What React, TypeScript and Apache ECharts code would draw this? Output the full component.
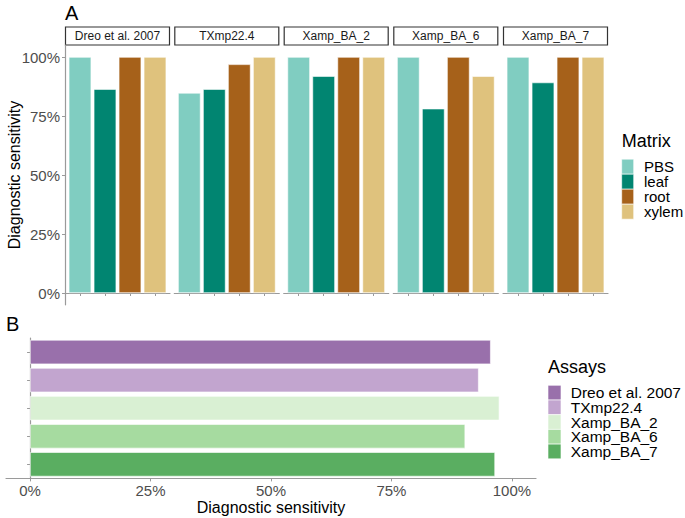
import React, { useEffect, useRef } from "react";
import * as echarts from "echarts";

// ---- data ----
const facets = ["Dreo et al. 2007", "TXmp22.4", "Xamp_BA_2", "Xamp_BA_6", "Xamp_BA_7"];
const matrices = ["PBS", "leaf", "root", "xylem"];
const pbsValues = [100, 84.8, 100, 100, 100];
const leafValues = [86.4, 86.4, 91.9, 78.1, 89.2];
const rootValues = [100, 96.9, 100, 100, 100];
const xylemValues = [100, 100, 100, 91.9, 100];
const matrixColors = ["#80CDC1", "#018571", "#A6611A", "#DFC27D"];

const assays = ["Dreo et al. 2007", "TXmp22.4", "Xamp_BA_2", "Xamp_BA_6", "Xamp_BA_7"];
const assayValues = [95.6, 93.1, 97.4, 90.3, 96.5];
const assayColors = ["#9970AB", "#C2A5CF", "#D9F0D3", "#A6DBA0", "#5AAE61"];

const pctTicks = [0, 25, 50, 75, 100];

const FONT = "Liberation Sans, Arial, Helvetica, sans-serif";
const AXIS_GRAY = "#9a9a9a";
const TEXT_GRAY = "#4D4D4D";

function legendGraphics(
  title: string,
  names: string[],
  colors: string[],
  x: number,
  titleY: number,
  firstKeyTop: number,
  keyW: number,
  keyH: number,
  labelX: number,
  labelSize: number
) {
  const els: any[] = [
    { type: "text", x, y: titleY, style: { text: title, font: `18px ${FONT}`, fill: "#000", verticalAlign: "middle" } },
  ];
  names.forEach((n, i) => {
    els.push({
      type: "rect",
      shape: { x, y: firstKeyTop + i * keyH, width: keyW, height: keyH },
      style: { fill: colors[i], stroke: "#ffffff", lineWidth: 0.6 },
    });
    els.push({
      type: "text",
      x: labelX,
      y: firstKeyTop + i * keyH + keyH / 2,
      style: { text: n, font: `${labelSize}px ${FONT}`, fill: "#000", verticalAlign: "middle" },
    });
  });
  return els;
}

export default function App() {
  const ref = useRef<HTMLDivElement>(null);

  useEffect(() => {
    if (!ref.current) return;
    const chart = echarts.init(ref.current, null, { renderer: "svg" });

    const matrixValues = [pbsValues, leafValues, rootValues, xylemValues];

    // Layout of panel A
    const aLefts = [65, 174.3, 283.7, 393.3, 503];
    const aWidth = 105;
    const aTop = 45.2;
    const aHeight = 259.6;

    const grids: any[] = [];
    const xAxes: any[] = [];
    const yAxes: any[] = [];
    const series: any[] = [];
    const graphics: any[] = [];

    facets.forEach((f, fi) => {
      grids.push({ left: aLefts[fi], top: aTop, width: aWidth, height: aHeight, containLabel: false });
      xAxes.push({
        type: "value",
        gridIndex: fi,
        min: 0.4,
        max: 4.6,
        axisLine: { show: true, lineStyle: { color: AXIS_GRAY, width: 1.2 } },
        axisTick: { show: true, length: 3, customValues: [1, 2, 3, 4], lineStyle: { color: AXIS_GRAY } },
        axisLabel: { show: false },
        splitLine: { show: false },
      });
      yAxes.push({
        type: "value",
        gridIndex: fi,
        min: -5,
        max: 105,
        axisLine: { show: fi === 0, lineStyle: { color: AXIS_GRAY, width: 1.2 } },
        axisTick: { show: fi === 0, length: 3, customValues: pctTicks, lineStyle: { color: AXIS_GRAY } },
        axisLabel: {
          show: fi === 0,
          customValues: pctTicks,
          formatter: "{value}%",
          color: TEXT_GRAY,
          fontSize: 15,
          fontFamily: FONT,
          margin: 5,
        },
        splitLine: { show: false },
      });
      matrices.forEach((m, mi) => {
        series.push({
          type: "bar",
          name: m,
          xAxisIndex: fi,
          yAxisIndex: fi,
          data: [[mi + 1, matrixValues[mi][fi]]],
          barWidth: 22.5,
          barGap: "-100%",
          itemStyle: { color: matrixColors[mi], borderColor: "#ffffff", borderWidth: 0.6 },
        });
      });
      // strip
      graphics.push({
        type: "rect",
        shape: { x: aLefts[fi] + 0.5, y: 27, width: aWidth - 1, height: 18 },
        style: { fill: "#ffffff", stroke: "#333333", lineWidth: 1.2 },
      });
      graphics.push({
        type: "text",
        x: aLefts[fi] + aWidth / 2,
        y: 36,
        style: {
          text: f,
          fill: "#1A1A1A",
          font: `12px ${FONT}`,
          align: "center",
          verticalAlign: "middle",
        },
      });
    });

    // Panel B
    const bIndex = facets.length;
    grids.push({ left: 6, top: 338, width: 530, height: 140.4, containLabel: false });
    xAxes.push({
      type: "value",
      gridIndex: bIndex,
      min: -5,
      max: 105,
      axisLine: { show: true, lineStyle: { color: AXIS_GRAY, width: 1.2 } },
      axisTick: { show: true, length: 3, customValues: pctTicks, lineStyle: { color: AXIS_GRAY } },
      axisLabel: {
        customValues: pctTicks,
        formatter: "{value}%",
        color: TEXT_GRAY,
        fontSize: 15,
        fontFamily: FONT,
        margin: 5,
      },
      splitLine: { show: false },
    });
    yAxes.push({
      type: "category",
      gridIndex: bIndex,
      data: assays,
      inverse: true,
      axisLine: { show: true, lineStyle: { color: AXIS_GRAY, width: 1.2 } },
      axisTick: { show: true, length: 3, alignWithLabel: true, lineStyle: { color: AXIS_GRAY } },
      axisLabel: { show: false },
      splitLine: { show: false },
    });
    assays.forEach((a, ai) => {
      series.push({
        type: "bar",
        name: a,
        xAxisIndex: bIndex,
        yAxisIndex: bIndex,
        data: assays.map((_, j) => (j === ai ? assayValues[ai] : "-")),
        barWidth: 24.3,
        barGap: "-100%",
        itemStyle: { color: assayColors[ai], borderColor: "#ffffff", borderWidth: 0.6 },
      });
    });

    // Texts
    graphics.push(
      { type: "text", x: 65, y: 13, style: { text: "A", font: `20px ${FONT}`, fill: "#000", verticalAlign: "middle" } },
      { type: "text", x: 6, y: 324, style: { text: "B", font: `20px ${FONT}`, fill: "#000", verticalAlign: "middle" } },
      {
        type: "text",
        x: 14,
        y: 175,
        rotation: Math.PI / 2,
        style: { text: "Diagnostic sensitivity", font: `16px ${FONT}`, fill: "#000", align: "center", verticalAlign: "middle" },
      },
      {
        type: "text",
        x: 271,
        y: 507,
        style: { text: "Diagnostic sensitivity", font: `16px ${FONT}`, fill: "#000", align: "center", verticalAlign: "middle" },
      },
      ...legendGraphics("Matrix", matrices, matrixColors, 621.7, 141, 159.2, 12, 15, 644, 15),
      ...legendGraphics("Assays", assays, assayColors, 548, 367, 385.3, 13, 14.7, 570.7, 15.5)
    );

    chart.setOption({
      animation: false,
      backgroundColor: "#ffffff",
      textStyle: { fontFamily: FONT },
      grid: grids,
      xAxis: xAxes,
      yAxis: yAxes,
      series,
      graphic: graphics,
    });

    return () => chart.dispose();
  }, []);

  return <div ref={ref} style={{ position: "absolute", left: 0, top: 0, width: 685, height: 518 }} />;
}
